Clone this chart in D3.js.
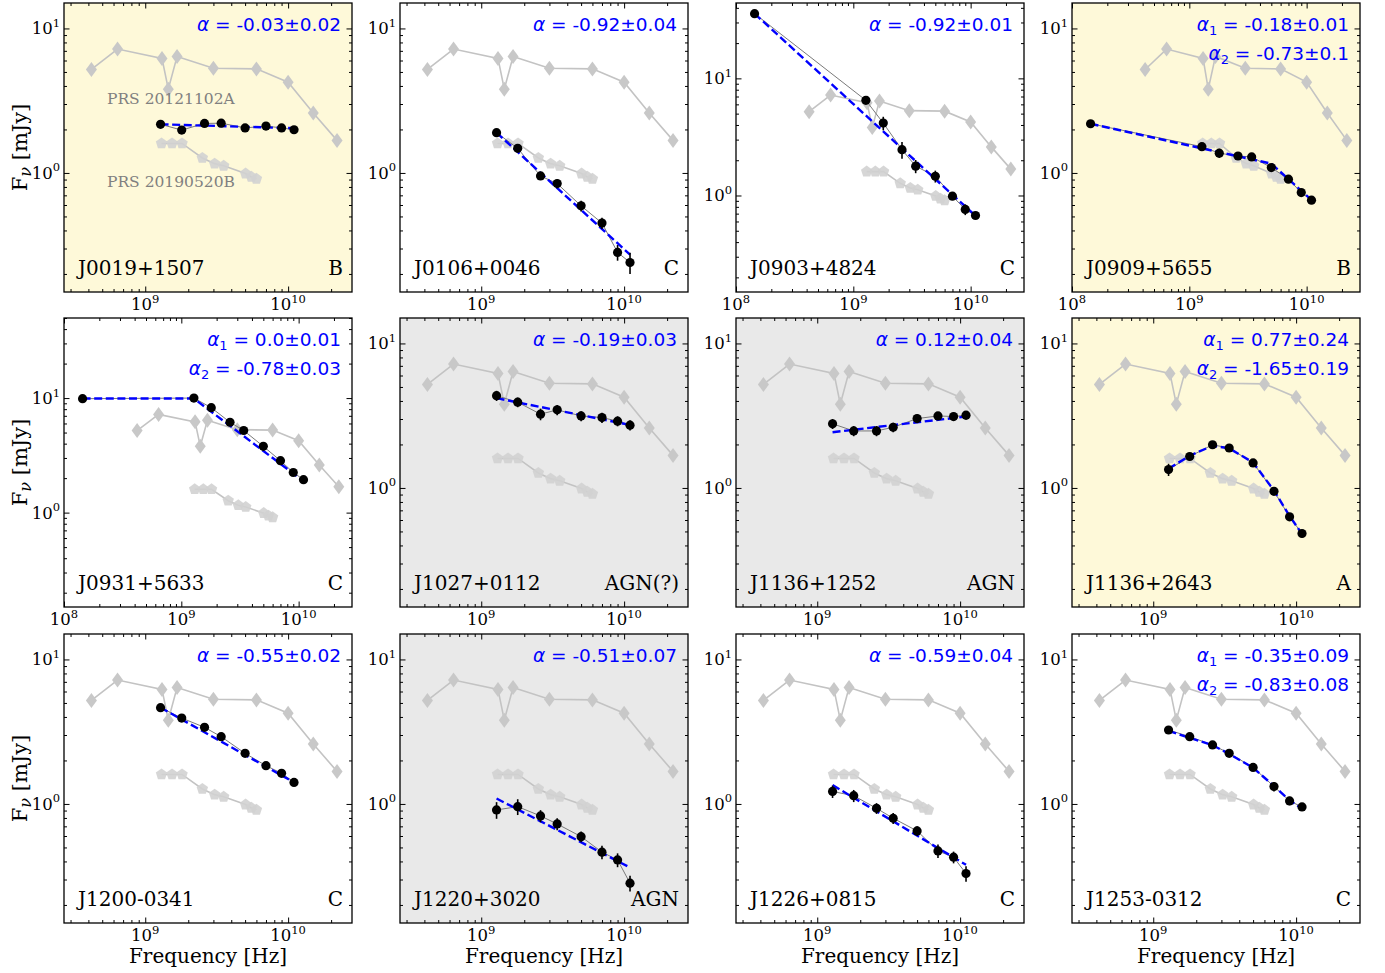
<!DOCTYPE html>
<html>
<head>
<meta charset="utf-8">
<script src="https://cdn.jsdelivr.net/npm/d3@7"></script>
<style>
  body { margin: 0; background: #fff; }
  svg { display: block; }
</style>
</head>
<body>
<div id="chart"></div>
<script>
// ---- data (frequencies in GHz, flux densities in mJy) ----
const sources = ["J0019+1507", "J0106+0046", "J0903+4824", "J0909+5655",
                 "J0931+5633", "J1027+0112", "J1136+1252", "J1136+2643",
                 "J1200-0341", "J1220+3020", "J1226+0815", "J1253-0312"];
const classes = ["B", "C", "C", "B", "C", "AGN(?)", "AGN", "A", "C", "AGN", "C", "C"];
const panelShade = ["yellow", "white", "white", "yellow", "white", "gray",
                    "gray", "yellow", "white", "gray", "white", "white"];
const alphaLabels = [["-0.03±0.02"], ["-0.92±0.04"], ["-0.92±0.01"], ["-0.18±0.01", "-0.73±0.1"],
                     ["0.0±0.01", "-0.78±0.03"], ["-0.19±0.03"], ["0.12±0.04"], ["0.77±0.24", "-1.65±0.19"],
                     ["-0.55±0.02"], ["-0.51±0.07"], ["-0.59±0.04"], ["-0.35±0.09", "-0.83±0.08"]];
const yTop = [15, 15, 44, 15, 50, 15, 15, 15, 15, 15, 15, 15];

const bandFreq = [1.28, 1.8, 2.6, 3.4, 5.0, 7.0, 9.0, 11.0];
const bandFlux = [
  [2.17, 1.98, 2.20, 2.21, 2.05, 2.11, 2.05, 1.99],
  [1.90, 1.48, 0.953, 0.844, 0.592, 0.45, 0.282, 0.24],
  [6.49, 4.15, 2.46, 1.78, 1.46, 0.987, 0.76, 0.675],
  [1.52, 1.37, 1.31, 1.29, 1.09, 0.905, 0.731, 0.648],
  [10.0, 8.24, 6.15, 5.21, 3.79, 2.84, 2.24, 1.94],
  [4.35, 3.92, 3.24, 3.47, 3.15, 3.07, 2.90, 2.72],
  [2.78, 2.48, 2.48, 2.63, 3.02, 3.15, 3.12, 3.19],
  [1.34, 1.65, 1.99, 1.89, 1.49, 0.948, 0.631, 0.484],
  [4.64, 3.93, 3.39, 2.92, 2.24, 1.84, 1.63, 1.41],
  [0.909, 0.958, 0.826, 0.727, 0.594, 0.464, 0.41, 0.283],
  [1.22, 1.14, 0.933, 0.796, 0.651, 0.473, 0.428, 0.33],
  [3.25, 2.92, 2.56, 2.24, 1.79, 1.32, 1.05, 0.953]
];
const bandErr = [
  [0.05, 0.08, 0.05, 0.05, 0.04, 0.04, 0.04, 0.04],
  [0.09, 0.08, 0.06, 0.06, 0.05, 0.04, 0.035, 0.04],
  [0.2, 0.55, 0.4, 0.23, 0.17, 0.05, 0.08, 0.04],
  [0.05, 0.1, 0.05, 0.04, 0.04, 0.03, 0.04, 0.03],
  [0.15, 0.15, 0.1, 0.1, 0.08, 0.06, 0.05, 0.05],
  [0.35, 0.3, 0.3, 0.28, 0.25, 0.25, 0.23, 0.22],
  [0.22, 0.2, 0.2, 0.2, 0.2, 0.2, 0.2, 0.22],
  [0.13, 0.1, 0.08, 0.08, 0.06, 0.04, 0.03, 0.03],
  [0.12, 0.1, 0.08, 0.07, 0.05, 0.04, 0.04, 0.04],
  [0.12, 0.12, 0.08, 0.07, 0.05, 0.05, 0.045, 0.035],
  [0.12, 0.11, 0.08, 0.07, 0.05, 0.05, 0.04, 0.04],
  [0.2, 0.12, 0.12, 0.12, 0.08, 0.1, 0.07, 0.05]
];

// 144 MHz point, only for some sources
const lofarFreq = 0.144;
const lofarFlux = [null, null, 35.7, 2.19, 9.88, null, null, null, null, null, null, null];
const lofarErr  = [null, null, 1.0, 0.06, 0.2, null, null, null, null, null, null, null];

// fitted power laws, vertices
const fitLines = [
  [[1.28, 2.17], [11, 2.04]],
  [[1.28, 1.90], [11, 0.272]],
  [[0.144, 35.7], [10.5, 0.70]],
  [[0.144, 2.19], [5.0, 1.16], [11, 0.65]],
  [[0.144, 9.9], [1.28, 9.9], [11, 1.88]],
  [[1.28, 4.18], [11, 2.73]],
  [[1.28, 2.43], [11, 3.12]],
  [[1.28, 1.36], [1.8, 1.67], [2.6, 1.96], [3.4, 1.88], [5, 1.5], [7, 0.96], [9, 0.64], [11, 0.48]],
  [[1.28, 4.64], [11, 1.41]],
  [[1.28, 1.09], [11, 0.363]],
  [[1.28, 1.35], [11, 0.379]],
  [[1.28, 3.2], [2.6, 2.55], [3.4, 2.22], [5, 1.78], [7, 1.33], [9, 1.06], [11, 0.93]]
];

// comparison sources
const prsAFreq = [0.42, 0.64, 1.31, 1.45, 1.67, 3.0, 6.0, 10.0, 15.0, 22.0];
const prsAFlux = [5.2, 7.2, 6.2, 3.8, 6.4, 5.3, 5.25, 4.25, 2.6, 1.68];
const prsBFreq = [1.3, 1.54, 1.81, 2.51, 3.06, 3.54, 5.04, 5.53, 6.0];
const prsBFlux = [1.6, 1.6, 1.6, 1.27, 1.16, 1.12, 0.99, 0.94, 0.91];

// ---- layout ----
const W = 1385, H = 973;
const colLeft = [64, 400, 736, 1072];
const rowTop = [3, 318, 634];
const pw = 288, ph = 289;
const shadeColor = { yellow: "#fef9d9", gray: "#e9e9e9", white: "#ffffff" };
const serif = "DejaVu Serif", sans = "DejaVu Sans";

const svg = d3.select("#chart").append("svg")
    .attr("width", W)
    .attr("height", H);

const isMajor = v => Math.abs(Math.log10(v) - Math.round(Math.log10(v))) < 1e-6;

function powLabel(t, v) {
    t.append("tspan").text("10");
    t.append("tspan").attr("font-size", 11.5).attr("dy", -7.5).text(Math.round(Math.log10(v)));
}

const diamond = "M0,-7.5L5.5,0L0,7.5L-5.5,0Z";
const pentagon = d3.range(5).map(k => {
    const a = -Math.PI / 2 + k * 2 * Math.PI / 5;
    return [6 * Math.cos(a), 6 * Math.sin(a)];
});
const pentagonPath = "M" + pentagon.map(p => p.join(",")).join("L") + "Z";

sources.forEach((name, i) => {
    const col = i % 4, row = Math.floor(i / 4);
    const g = svg.append("g")
        .attr("transform", "translate(" + colLeft[col] + "," + rowTop[row] + ")");

    const wide = lofarFlux[i] !== null;
    const x = d3.scaleLog()
        .domain(wide ? [1e8, 2.85e10] : [2.7e8, 2.8e10])
        .range([0, pw]);
    const y = d3.scaleLog()
        .domain([0.15, yTop[i]])
        .range([ph, 0]);
    const X = f => x(f * 1e9);

    g.append("rect")
        .attr("width", pw)
        .attr("height", ph)
        .attr("fill", shadeColor[panelShade[i]]);

    //comparison PRS 20121102A (diamonds)
    const line = d3.line().x(d => X(d[0])).y(d => y(d[1]));
    const prsA = prsAFreq.map((f, k) => [f, prsAFlux[k]]);
    g.append("path")
        .attr("d", line(prsA))
        .attr("fill", "none")
        .attr("stroke", "#c3c3c3")
        .attr("stroke-width", 1.6);
    g.selectAll("path.dia")
        .data(prsA)
        .enter()
        .append("path")
        .attr("class", "dia")
        .attr("d", diamond)
        .attr("transform", d => "translate(" + X(d[0]) + "," + y(d[1]) + ")")
        .attr("fill", "#c8c8c8");

    //comparison PRS 20190520B (pentagons)
    const prsB = prsBFreq.map((f, k) => [f, prsBFlux[k]]);
    g.append("path")
        .attr("d", line(prsB))
        .attr("fill", "none")
        .attr("stroke", "#c3c3c3")
        .attr("stroke-width", 1.6);
    g.selectAll("path.pent")
        .data(prsB)
        .enter()
        .append("path")
        .attr("class", "pent")
        .attr("d", pentagonPath)
        .attr("transform", d => "translate(" + X(d[0]) + "," + y(d[1]) + ")")
        .attr("fill", "#d2d2d2")
        .attr("opacity", 0.9);

    //source data
    let pts = bandFreq.map((f, k) => [f, bandFlux[i][k], bandErr[i][k]]);
    if (wide) pts = [[lofarFreq, lofarFlux[i], lofarErr[i]]].concat(pts);

    g.append("path")
        .attr("d", line(pts))
        .attr("fill", "none")
        .attr("stroke", "#7a7a7a")
        .attr("stroke-width", 1);

    g.append("path")
        .attr("d", line(fitLines[i]))
        .attr("fill", "none")
        .attr("stroke", "#0000ff")
        .attr("stroke-width", 2.4)
        .attr("stroke-dasharray", "8,3.6");

    g.selectAll("line.err")
        .data(pts)
        .enter()
        .append("line")
        .attr("class", "err")
        .attr("x1", d => X(d[0]))
        .attr("x2", d => X(d[0]))
        .attr("y1", d => y(d[1] - d[2]))
        .attr("y2", d => y(d[1] + d[2]))
        .attr("stroke", "#000")
        .attr("stroke-width", 1.6);

    g.selectAll("circle.pt")
        .data(pts)
        .enter()
        .append("circle")
        .attr("class", "pt")
        .attr("cx", d => X(d[0]))
        .attr("cy", d => y(d[1]))
        .attr("r", 4.6)
        .attr("fill", "#000");

    //ticks on all four sides, pointing in
    const sides = [
        [d3.axisBottom(x), "translate(0," + ph + ")", x],
        [d3.axisTop(x), null, x],
        [d3.axisLeft(y), null, y],
        [d3.axisRight(y), "translate(" + pw + ",0)", y]
    ];
    sides.forEach(([axis, tr, sc]) => {
        const all = sc.ticks();
        [[all.filter(v => !isMajor(v)), 3], [all.filter(isMajor), 5.5]].forEach(([vals, len]) => {
            const a = g.append("g");
            if (tr) a.attr("transform", tr);
            a.call(axis.tickValues(vals).tickSize(-len).tickSizeOuter(0).tickFormat(""));
            a.select(".domain").remove();
            a.selectAll("text").remove();
            a.selectAll("line").attr("stroke", "#000").attr("stroke-width", 1);
        });
    });

    g.append("rect")
        .attr("width", pw)
        .attr("height", ph)
        .attr("fill", "none")
        .attr("stroke", "#000")
        .attr("stroke-width", 1.3);

    //tick labels
    x.ticks().filter(isMajor).forEach(v => {
        const t = g.append("text")
            .attr("x", x(v))
            .attr("y", ph + 18)
            .attr("text-anchor", "middle")
            .attr("font-family", serif)
            .attr("font-size", 16.5)
            .attr("fill", "#000");
        powLabel(t, v);
    });
    y.ticks().filter(isMajor).forEach(v => {
        const t = g.append("text")
            .attr("x", -4)
            .attr("y", y(v) + 6)
            .attr("text-anchor", "end")
            .attr("font-family", serif)
            .attr("font-size", 16.5)
            .attr("fill", "#000");
        powLabel(t, v);
    });

    //source name and class
    g.append("text")
        .attr("x", 14)
        .attr("y", ph - 17)
        .attr("font-family", serif)
        .attr("font-size", 20)
        .text(name);
    g.append("text")
        .attr("x", pw - 9)
        .attr("y", ph - 17)
        .attr("text-anchor", "end")
        .attr("font-family", serif)
        .attr("font-size", 20)
        .text(classes[i]);

    //spectral index labels
    const n = alphaLabels[i].length;
    alphaLabels[i].forEach((s, k) => {
        const t = g.append("text")
            .attr("x", pw - 11)
            .attr("y", 28 + k * 29)
            .attr("text-anchor", "end")
            .attr("font-family", sans)
            .attr("font-size", 18.5)
            .attr("fill", "#0000ff");
        t.append("tspan").attr("font-style", "italic").text("α");
        if (n > 1) {
            t.append("tspan").attr("font-size", 13).attr("dy", 4).text(k + 1);
            t.append("tspan").attr("dy", -4).text(" = " + s);
        } else {
            t.append("tspan").text(" = " + s);
        }
    });

    if (i === 0) {
        g.append("text")
            .attr("x", 43).attr("y", 101)
            .attr("font-family", serif).attr("font-size", 15.5)
            .attr("fill", "#808080")
            .text("PRS 20121102A");
        g.append("text")
            .attr("x", 43).attr("y", 183.5)
            .attr("font-family", serif).attr("font-size", 15.5)
            .attr("fill", "#808080")
            .text("PRS 20190520B");
    }

    if (col === 0) {
        const t = svg.append("text")
            .attr("transform", "translate(27," + (rowTop[row] + ph / 2) + ") rotate(-90)")
            .attr("text-anchor", "middle")
            .attr("font-family", serif)
            .attr("font-size", 21);
        t.append("tspan").text("F");
        t.append("tspan").attr("font-size", 16).attr("dy", 4).attr("font-style", "italic").text("ν");
        t.append("tspan").attr("dy", -4).text(" [mJy]");
    }
    if (row === 2) {
        svg.append("text")
            .attr("x", colLeft[col] + pw / 2)
            .attr("y", 963)
            .attr("text-anchor", "middle")
            .attr("font-family", serif)
            .attr("font-size", 20)
            .text("Frequency [Hz]");
    }
});
</script>
</body>
</html>
